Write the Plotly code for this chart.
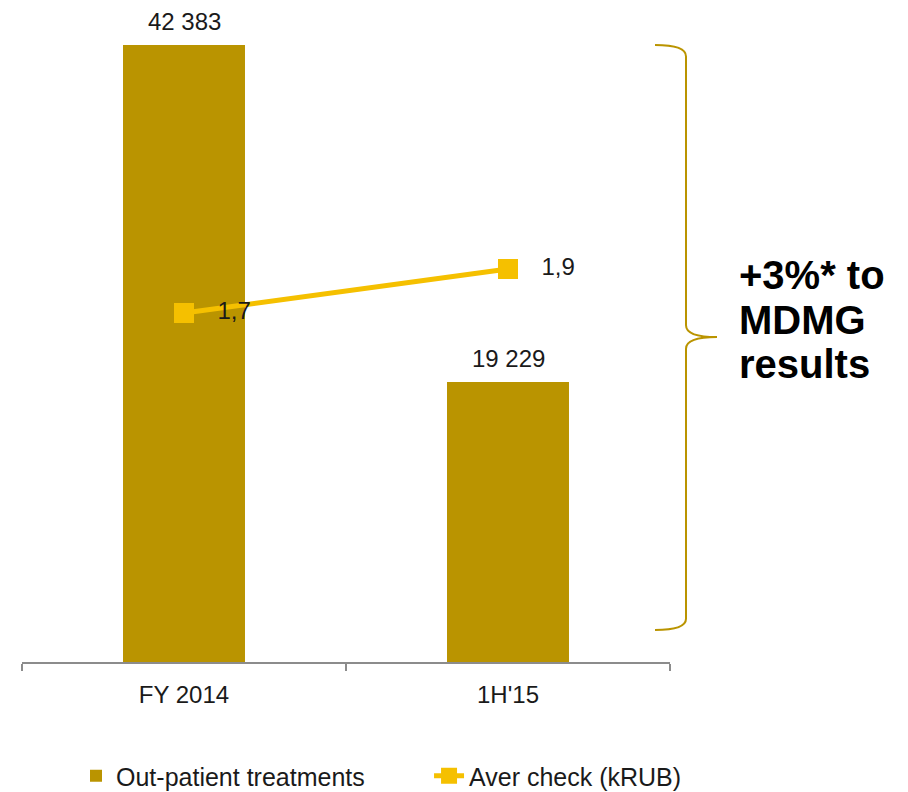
import plotly.graph_objects as go

categories = ["FY 2014", "1H'15"]
treatments = [42383, 19229]
aver_check = [1.7, 1.9]
series_names = ["Out-patient treatments", "Aver check (kRUB)"]
callout_lines = ["+3%* to", "MDMG", "results"]

BAR = "#BA9400"
LINE = "#F5C000"
TXT = "#1a1a1a"
FONT = "Liberation Sans"

fig = go.Figure()
fig.add_trace(go.Bar(
    x=categories, y=treatments, name=series_names[0], legend="legend",
    marker=dict(color=BAR, line=dict(width=0)), width=0.3765,
))
fig.add_trace(go.Scatter(
    x=categories, y=aver_check, yaxis="y2", name=series_names[1],
    legend="legend2",
    mode="lines+markers+text",
    line=dict(color=LINE, width=5),
    marker=dict(symbol="square", size=20, color=LINE),
    texttemplate="\u00a0\u00a0\u00a0%{y:.1f}", textposition="middle right",
    textfont=dict(size=24, color=TXT, family=FONT), cliponaxis=False,
))

# bar value labels, anchored to the bar tops
for cat, v in zip(categories, treatments):
    fig.add_annotation(x=cat, y=v, xref="x", yref="y",
                       text=f"{v:,}".replace(",", " "),
                       yanchor="bottom", yshift=8, showarrow=False,
                       font=dict(size=24, color=TXT, family=FONT))

# brace (paper coordinates)
brace = ("M 0.9769,0.9434 Q 1.0247,0.9434 1.0247,0.926 L 1.0247,0.515 "
         "Q 1.0247,0.4969 1.0725,0.4969 Q 1.0247,0.4969 1.0247,0.479 "
         "L 1.0247,0.066 Q 1.0247,0.0489 0.9769,0.0489")
fig.add_shape(type="path", path=brace, xref="paper", yref="paper",
              line=dict(color=BAR, width=2))

for txt, yy in zip(callout_lines, [0.5917, 0.5229, 0.4557]):
    fig.add_annotation(text=f"<b>{txt}</b>", xref="paper", yref="paper",
                       x=1.1034, y=yy, xanchor="left", yanchor="middle",
                       showarrow=False,
                       font=dict(size=40, color="#000000", family=FONT))

legend_common = dict(orientation="h", xref="container", yref="container",
                     y=0.0303, xanchor="left", yanchor="middle",
                     font=dict(size=25, color=TXT, family=FONT),
                     bgcolor="rgba(0,0,0,0)")

fig.update_layout(
    width=908, height=792,
    margin=dict(l=14, r=246, t=0, b=138, autoexpand=False),
    plot_bgcolor="white", paper_bgcolor="white",
    separators=", ",
    font=dict(family=FONT, size=24, color=TXT),
    showlegend=True,
    legend=dict(x=0.0749, **legend_common),
    legend2=dict(x=0.4637, **legend_common),
    xaxis=dict(showline=True, linecolor="#8c8c8c", linewidth=2,
               ticks="outside", tickson="boundaries", ticklen=7,
               tickcolor="#8c8c8c", tickwidth=1.5, showgrid=False,
               ticklabelstandoff=10,
               tickfont=dict(size=24, color=TXT, family=FONT)),
    yaxis=dict(range=[0, 44924], visible=False, showgrid=False),
    yaxis2=dict(range=[0.1136, 3.0864], overlaying="y", visible=False,
                showgrid=False),
)

fig.write_html("out.html")
